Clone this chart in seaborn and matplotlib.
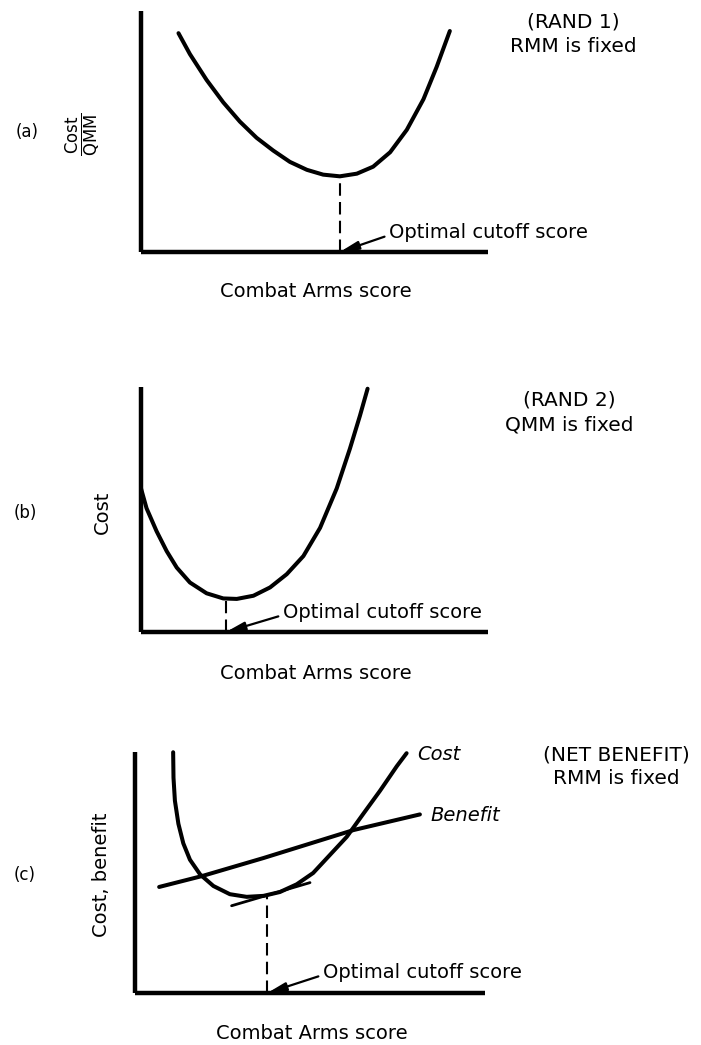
import matplotlib
matplotlib.use("Agg")
import matplotlib.pyplot as plt
import seaborn as sns

# -----------------------------
# values (both axes on a 0-100 scale, no units)
# -----------------------------
# (a) RAND 1: cost / QMM
score_a = [10.8, 14.1, 18.9, 23.7, 28.5, 33.3, 38.1, 42.9, 47.8, 52.5, 57.3,
           62.2, 66.9, 71.8, 76.6, 81.4, 85.2, 89.0]
cost_a = [90.8, 82.1, 71.4, 62.1, 54.1, 47.4, 42.1, 37.4, 34.1, 32.1, 31.4,
          32.5, 35.4, 41.4, 50.7, 63.4, 76.8, 91.7]
opt_a = 57.3

# (b) RAND 2: cost
score_b = [0.0, 1.6, 4.5, 7.4, 10.3, 14.1, 18.9, 23.7, 27.6, 32.4, 37.2, 42.0,
           46.8, 51.6, 56.4, 60.2, 63.1, 65.3]
cost_b = [58.6, 50.5, 41.1, 33.0, 26.3, 20.2, 15.8, 13.7, 13.5, 14.8, 18.2, 23.6,
          31.0, 42.5, 58.6, 74.8, 88.3, 99.3]
opt_b = 24.5

# (c) net benefit: cost and benefit curves
score_c = [10.9, 11.0, 11.4, 12.4, 13.8, 15.7, 18.6, 22.4, 27.1, 31.9, 36.7, 41.4,
           46.2, 50.9, 55.7, 60.5, 65.2, 70.0, 74.8, 77.6]
cost_c = [99.9, 89.3, 79.8, 70.2, 62.1, 55.3, 49.2, 44.4, 41.0, 39.9, 40.3, 41.9,
          45.1, 49.8, 57.3, 64.8, 74.3, 83.9, 94.1, 99.5]
benefit_x = [6.9, 19.1, 36.7, 62.4, 81.4]
benefit_y = [44.0, 48.5, 56.0, 67.6, 74.1]
tangent_x = [27.6, 50.0]
tangent_y = [36.2, 45.8]
opt_c = 37.8

sns.set_style("white")
plt.rcParams["font.family"] = ["DejaVu Sans"]
plt.rcParams["mathtext.fontset"] = "dejavusans"
plt.rcParams["text.color"] = "black"
plt.rcParams["axes.labelcolor"] = "black"

W, H = 701, 1045
fig = plt.figure(figsize=(W / 100, H / 100), dpi=100)


def px_axes(left, top, right, bottom):
    return fig.add_axes([left / W, 1 - bottom / H, (right - left) / W, (bottom - top) / H])


def ftext(x, y, s, **kw):
    fig.text(x / W, 1 - y / H, s, ha="center", va="center", **kw)


def setup(ax):
    ax.set_xlim(0, 100)
    ax.set_ylim(0, 100)
    ax.set_xticks([])
    ax.set_yticks([])
    for side in ["top", "right"]:
        ax.spines[side].set_visible(False)
    for side in ["left", "bottom"]:
        ax.spines[side].set_linewidth(3.2)
        ax.spines[side].set_color("black")
        ax.spines[side].set_capstyle("butt")
    ax.set_facecolor("none")


def curve(ax, x, y, lw=2.9):
    sns.lineplot(x=x, y=y, ax=ax, color="black", linewidth=lw, sort=False, estimator=None)
    ln = ax.lines[-1]
    ln.set_clip_on(False)
    ln.set_solid_capstyle("round")
    ln.set_solid_joinstyle("round")


def cutoff(ax, x0, top, tx, ty):
    ax.vlines(x0, 0, top, colors="black", linewidth=1.5, linestyles=(0, (6, 3)))
    ax.annotate("Optimal cutoff score", xy=(x0, 0), xytext=(tx, ty),
                ha="left", va="center", fontsize=14,
                arrowprops=dict(arrowstyle="-|>,head_length=0.8,head_width=0.18",
                                color="black", lw=1.6, shrinkA=1, shrinkB=0,
                                relpos=(0, 0.35)))


def xlab(ax, y):
    ax.set_xlabel("Combat Arms score", fontsize=14, visible=True)
    ax.xaxis.set_label_coords(0.505, y)


def ylab(ax, s, x, size=14):
    ax.set_ylabel(s, fontsize=size, va="center", visible=True)
    ax.yaxis.set_label_coords(x, 0.49)


# ---- panel (a)
ax_a = px_axes(141, 11, 488, 252)
setup(ax_a)
curve(ax_a, score_a, cost_a)
cutoff(ax_a, opt_a, 30.5, 71.5, 8.2)
xlab(ax_a, -0.125)
ylab(ax_a, r"$\frac{\mathrm{Cost}}{\mathrm{QMM}}$", -0.167, size=17)
ftext(27, 132, "(a)", fontsize=12)
ftext(573, 22, "(RAND 1)", fontsize=14.5)
ftext(573, 46, "RMM is fixed", fontsize=14.5)

# ---- panel (b)
ax_b = px_axes(141, 387, 488, 632)
setup(ax_b)
curve(ax_b, score_b, cost_b)
cutoff(ax_b, opt_b, 12.8, 40.9, 8.1)
xlab(ax_b, -0.13)
ylab(ax_b, "Cost", -0.11)
ftext(25, 513, "(b)", fontsize=12)
ftext(569, 400, "(RAND 2)", fontsize=14.5)
ftext(569, 425, "QMM is fixed", fontsize=14.5)

# ---- panel (c)
ax_c = px_axes(135, 752, 485, 993)
setup(ax_c)
curve(ax_c, score_c, cost_c)
curve(ax_c, benefit_x, benefit_y)
curve(ax_c, tangent_x, tangent_y, lw=2.0)
cutoff(ax_c, opt_c, 39.8, 53.7, 8.7)
xlab(ax_c, -0.13)
ylab(ax_c, "Cost, benefit", -0.097)
ax_c.text(80.5, 99, "Cost", fontsize=14, style="italic", ha="left", va="center")
ax_c.text(84.5, 73.6, "Benefit", fontsize=14, style="italic", ha="left", va="center")
ftext(25, 875, "(c)", fontsize=12)
ftext(616, 755, "(NET BENEFIT)", fontsize=14.5)
ftext(616, 778, "RMM is fixed", fontsize=14.5)

fig.savefig("out.png", dpi=100, facecolor="white")
